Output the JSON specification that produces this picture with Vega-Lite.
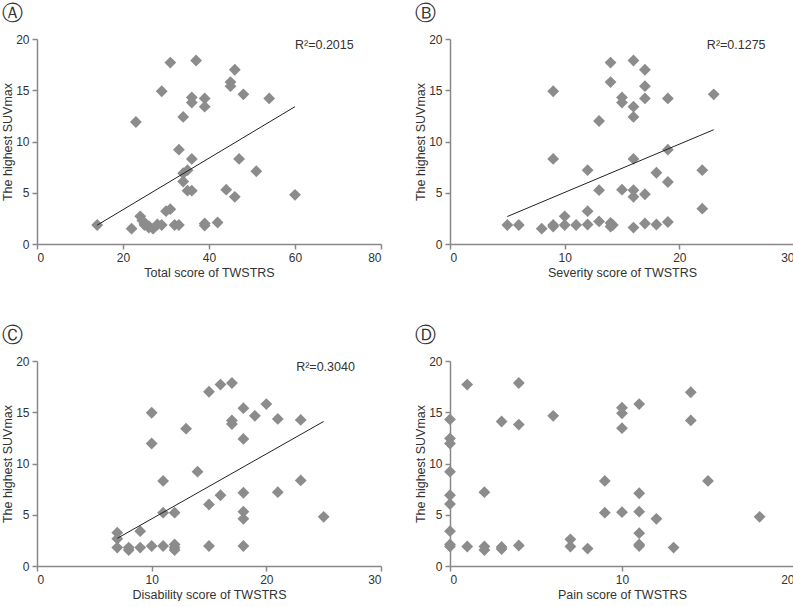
{
  "$schema": "https://vega.github.io/schema/vega-lite/v6.json",
  "usermeta": {"embedOptions": {"actions": false}},
  "padding": {"left": 1, "top": 4, "right": 0, "bottom": 0},
  "background": "white",
  "config": {
    "view": {"stroke": null},
    "font": "Liberation Sans",
    "axis": {
      "grid": false,
      "domainColor": "#888888",
      "domainWidth": 1.5,
      "tickColor": "#888888",
      "tickWidth": 1.5,
      "tickSize": 5,
      "labelColor": "#333333",
      "titleColor": "#333333",
      "labelFont": "Liberation Sans",
      "titleFont": "Liberation Sans",
      "labelFontSize": 12,
      "titleFontSize": 12.5,
      "titleFontWeight": "normal",
      "labelPadding": 3
    },
    "axisX": {"titlePadding": 3},
    "axisY": {"titlePadding": 1},
    "title": {"anchor": "start", "frame": "bounds", "font": "DejaVu Sans", "fontSize": 20.5, "fontWeight": "normal", "color": "#333333", "offset": 8.5}
  },
  "datasets": {
    "a_pts": [
      {"score": 14, "suv": 1.85}, {"score": 22, "suv": 1.5}, {"score": 23, "suv": 11.9}, {"score": 24, "suv": 2.7},
      {"score": 24.5, "suv": 2.3}, {"score": 25, "suv": 1.85}, {"score": 25, "suv": 2.0}, {"score": 26, "suv": 1.6},
      {"score": 26, "suv": 1.75}, {"score": 27, "suv": 1.5}, {"score": 28, "suv": 1.9}, {"score": 29, "suv": 1.85},
      {"score": 29, "suv": 14.9}, {"score": 30, "suv": 3.2}, {"score": 31, "suv": 3.4}, {"score": 31, "suv": 17.7},
      {"score": 32, "suv": 1.85}, {"score": 33, "suv": 1.85}, {"score": 33, "suv": 9.2}, {"score": 34, "suv": 12.4},
      {"score": 34, "suv": 6.9}, {"score": 34, "suv": 6.1}, {"score": 35, "suv": 7.2}, {"score": 35, "suv": 5.2},
      {"score": 36, "suv": 5.2}, {"score": 36, "suv": 8.3}, {"score": 36, "suv": 14.3}, {"score": 36, "suv": 13.8},
      {"score": 37, "suv": 17.9}, {"score": 39, "suv": 14.2}, {"score": 39, "suv": 13.4}, {"score": 39, "suv": 2.0},
      {"score": 39, "suv": 1.8}, {"score": 42, "suv": 2.1}, {"score": 44, "suv": 5.3}, {"score": 45, "suv": 15.8},
      {"score": 45, "suv": 15.4}, {"score": 46, "suv": 17.0}, {"score": 46, "suv": 4.6}, {"score": 47, "suv": 8.3},
      {"score": 48, "suv": 14.6}, {"score": 51, "suv": 7.1}, {"score": 54, "suv": 14.2}, {"score": 60, "suv": 4.8}
    ],
    "a_fit": [{"score": 14, "suv": 1.84}, {"score": 60, "suv": 13.4}],
    "b_pts": [
      {"score": 5, "suv": 1.85}, {"score": 6, "suv": 1.85}, {"score": 8, "suv": 1.5}, {"score": 9, "suv": 14.9},
      {"score": 9, "suv": 8.3}, {"score": 9, "suv": 1.85}, {"score": 9, "suv": 1.7}, {"score": 10, "suv": 2.7},
      {"score": 10, "suv": 1.85}, {"score": 11, "suv": 1.85}, {"score": 12, "suv": 7.2}, {"score": 12, "suv": 3.2},
      {"score": 12, "suv": 1.9}, {"score": 13, "suv": 12.0}, {"score": 13, "suv": 5.25}, {"score": 13, "suv": 2.2},
      {"score": 14, "suv": 17.7}, {"score": 14, "suv": 15.8}, {"score": 14, "suv": 2.05}, {"score": 14.2, "suv": 1.85},
      {"score": 14, "suv": 1.7}, {"score": 15, "suv": 14.3}, {"score": 15, "suv": 13.8}, {"score": 15, "suv": 5.3},
      {"score": 16, "suv": 17.9}, {"score": 16, "suv": 13.4}, {"score": 16, "suv": 12.4}, {"score": 16, "suv": 8.3},
      {"score": 16, "suv": 5.25}, {"score": 16, "suv": 4.6}, {"score": 16, "suv": 1.6}, {"score": 17, "suv": 17.0},
      {"score": 17, "suv": 15.4}, {"score": 17, "suv": 14.2}, {"score": 17, "suv": 4.85}, {"score": 17, "suv": 2.0},
      {"score": 18, "suv": 6.95}, {"score": 18, "suv": 1.9}, {"score": 19, "suv": 14.2}, {"score": 19, "suv": 9.2},
      {"score": 19, "suv": 6.05}, {"score": 19, "suv": 2.15}, {"score": 22, "suv": 7.2}, {"score": 22, "suv": 3.45},
      {"score": 23, "suv": 14.6}
    ],
    "b_fit": [{"score": 5, "suv": 2.68}, {"score": 23, "suv": 11.15}],
    "c_pts": [
      {"score": 7, "suv": 3.25}, {"score": 7, "suv": 2.65}, {"score": 7, "suv": 1.8}, {"score": 8, "suv": 1.8},
      {"score": 8, "suv": 1.55}, {"score": 9, "suv": 3.4}, {"score": 9, "suv": 1.8}, {"score": 10, "suv": 14.95},
      {"score": 10, "suv": 11.95}, {"score": 10, "suv": 1.95}, {"score": 11, "suv": 8.3}, {"score": 11, "suv": 5.2},
      {"score": 11, "suv": 1.95}, {"score": 12, "suv": 5.2}, {"score": 12, "suv": 2.1}, {"score": 12, "suv": 1.8},
      {"score": 12, "suv": 1.55}, {"score": 13, "suv": 13.4}, {"score": 14, "suv": 9.2}, {"score": 15, "suv": 17.0},
      {"score": 15, "suv": 6.0}, {"score": 15, "suv": 1.95}, {"score": 16, "suv": 17.7}, {"score": 16, "suv": 6.9},
      {"score": 17, "suv": 17.85}, {"score": 17, "suv": 14.2}, {"score": 17, "suv": 13.85}, {"score": 18, "suv": 15.4},
      {"score": 18, "suv": 12.4}, {"score": 18, "suv": 7.15}, {"score": 18, "suv": 5.3}, {"score": 18, "suv": 4.6},
      {"score": 18, "suv": 1.95}, {"score": 19, "suv": 14.65}, {"score": 20, "suv": 15.8}, {"score": 21, "suv": 14.35},
      {"score": 21, "suv": 7.2}, {"score": 23, "suv": 14.25}, {"score": 23, "suv": 8.35}, {"score": 25, "suv": 4.8}
    ],
    "c_fit": [{"score": 7, "suv": 2.7}, {"score": 25, "suv": 14.1}],
    "d_pts": [
      {"score": 0, "suv": 14.3}, {"score": 0, "suv": 12.45}, {"score": 0, "suv": 11.95}, {"score": 0, "suv": 9.2},
      {"score": 0, "suv": 6.9}, {"score": 0, "suv": 6.05}, {"score": 0, "suv": 3.4}, {"score": 0, "suv": 2.1},
      {"score": 0, "suv": 1.9}, {"score": 1, "suv": 17.7}, {"score": 1, "suv": 1.9}, {"score": 2, "suv": 7.2},
      {"score": 2, "suv": 1.9}, {"score": 2, "suv": 1.55}, {"score": 3, "suv": 14.1}, {"score": 3, "suv": 1.85},
      {"score": 3, "suv": 1.65}, {"score": 4, "suv": 17.85}, {"score": 4, "suv": 13.8}, {"score": 4, "suv": 2.0},
      {"score": 6, "suv": 14.65}, {"score": 7, "suv": 2.6}, {"score": 7, "suv": 1.9}, {"score": 8, "suv": 1.7},
      {"score": 9, "suv": 8.3}, {"score": 9, "suv": 5.2}, {"score": 10, "suv": 15.45}, {"score": 10, "suv": 14.9},
      {"score": 10, "suv": 13.45}, {"score": 10, "suv": 5.25}, {"score": 11, "suv": 15.8}, {"score": 11, "suv": 7.1},
      {"score": 11, "suv": 5.3}, {"score": 11, "suv": 3.2}, {"score": 11, "suv": 2.1}, {"score": 11, "suv": 1.95},
      {"score": 12, "suv": 4.6}, {"score": 13, "suv": 1.8}, {"score": 14, "suv": 16.95}, {"score": 14, "suv": 14.2},
      {"score": 15, "suv": 8.3}, {"score": 18, "suv": 4.8}
    ]
  },
  "spacing": 47,
  "vconcat": [
    {
      "spacing": 32,
      "hconcat": [
        {
          "title": "Ⓐ",
          "width": 344, "height": 205,
          "layer": [
            {"data": {"name": "a_pts"}, "mark": {"type": "point", "shape": "diamond", "filled": true, "color": "#8c8c8c", "opacity": 1, "size": 140},
             "encoding": {
               "x": {"field": "score", "type": "quantitative", "scale": {"domain": [0, 80], "nice": false}, "axis": {"values": [0, 20, 40, 60, 80], "title": "Total score of TWSTRS"}},
               "y": {"field": "suv", "type": "quantitative", "scale": {"domain": [0, 20], "nice": false}, "axis": {"values": [0, 5, 10, 15, 20], "title": "The highest SUVmax"}}}},
            {"data": {"name": "a_fit"}, "mark": {"type": "line", "color": "#222222", "strokeWidth": 1},
             "encoding": {"x": {"field": "score", "type": "quantitative"}, "y": {"field": "suv", "type": "quantitative"}}},
            {"data": {"values": [{"label": "R²=0.2015"}]}, "mark": {"type": "text", "align": "left", "baseline": "middle", "fontSize": 12.5, "color": "#333333"},
             "encoding": {"x": {"datum": 60}, "y": {"datum": 19.4}, "text": {"field": "label"}}}
          ]
        },
        {
          "title": "Ⓑ",
          "width": 344, "height": 205,
          "layer": [
            {"data": {"name": "b_pts"}, "mark": {"type": "point", "shape": "diamond", "filled": true, "color": "#8c8c8c", "opacity": 1, "size": 140},
             "encoding": {
               "x": {"field": "score", "type": "quantitative", "scale": {"domain": [0, 30], "nice": false}, "axis": {"values": [0, 10, 20, 30], "title": "Severity score of TWSTRS"}},
               "y": {"field": "suv", "type": "quantitative", "scale": {"domain": [0, 20], "nice": false}, "axis": {"values": [0, 5, 10, 15, 20], "title": "The highest SUVmax"}}}},
            {"data": {"name": "b_fit"}, "mark": {"type": "line", "color": "#222222", "strokeWidth": 1},
             "encoding": {"x": {"field": "score", "type": "quantitative"}, "y": {"field": "suv", "type": "quantitative"}}},
            {"data": {"values": [{"label": "R²=0.1275"}]}, "mark": {"type": "text", "align": "left", "baseline": "middle", "fontSize": 12.5, "color": "#333333"},
             "encoding": {"x": {"datum": 22.4}, "y": {"datum": 19.4}, "text": {"field": "label"}}}
          ]
        }
      ]
    },
    {
      "spacing": 32,
      "hconcat": [
        {
          "title": "Ⓒ",
          "width": 344, "height": 205,
          "layer": [
            {"data": {"name": "c_pts"}, "mark": {"type": "point", "shape": "diamond", "filled": true, "color": "#8c8c8c", "opacity": 1, "size": 140},
             "encoding": {
               "x": {"field": "score", "type": "quantitative", "scale": {"domain": [0, 30], "nice": false}, "axis": {"values": [0, 10, 20, 30], "title": "Disability score of TWSTRS"}},
               "y": {"field": "suv", "type": "quantitative", "scale": {"domain": [0, 20], "nice": false}, "axis": {"values": [0, 5, 10, 15, 20], "title": "The highest SUVmax"}}}},
            {"data": {"name": "c_fit"}, "mark": {"type": "line", "color": "#222222", "strokeWidth": 1},
             "encoding": {"x": {"field": "score", "type": "quantitative"}, "y": {"field": "suv", "type": "quantitative"}}},
            {"data": {"values": [{"label": "R²=0.3040"}]}, "mark": {"type": "text", "align": "left", "baseline": "middle", "fontSize": 12.5, "color": "#333333"},
             "encoding": {"x": {"datum": 22.6}, "y": {"datum": 19.4}, "text": {"field": "label"}}}
          ]
        },
        {
          "title": "Ⓓ",
          "width": 344, "height": 205,
          "layer": [
            {"data": {"name": "d_pts"}, "mark": {"type": "point", "shape": "diamond", "filled": true, "color": "#8c8c8c", "opacity": 1, "size": 140},
             "encoding": {
               "x": {"field": "score", "type": "quantitative", "scale": {"domain": [0, 20], "nice": false}, "axis": {"values": [0, 10, 20], "title": "Pain score of TWSTRS"}},
               "y": {"field": "suv", "type": "quantitative", "scale": {"domain": [0, 20], "nice": false}, "axis": {"values": [0, 5, 10, 15, 20], "title": "The highest SUVmax"}}}}
          ]
        }
      ]
    }
  ]
}
